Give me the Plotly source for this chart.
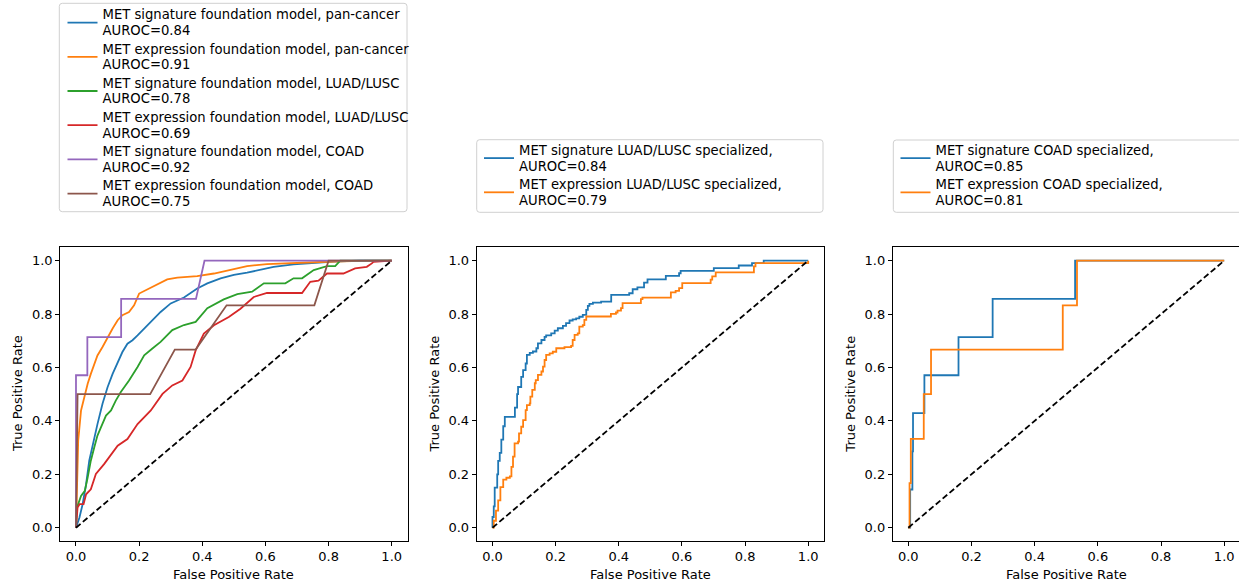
import plotly.graph_objects as go

W, H = 1239, 583

# ---------------- data ----------------
# Panel 1: foundation models
p1_labels = [
    ("MET signature foundation model, pan-cancer", "AUROC=0.84"),
    ("MET expression foundation model, pan-cancer", "AUROC=0.91"),
    ("MET signature foundation model, LUAD/LUSC", "AUROC=0.78"),
    ("MET expression foundation model, LUAD/LUSC", "AUROC=0.69"),
    ("MET signature foundation model, COAD", "AUROC=0.92"),
    ("MET expression foundation model, COAD", "AUROC=0.75"),
]
sig_pan_fpr = [0, 0.011, 0.021, 0.032, 0.042, 0.053, 0.068, 0.084, 0.1, 0.116, 0.132, 0.147, 0.163, 0.179, 0.195,
               0.211, 0.226, 0.247, 0.268, 0.3, 0.342, 0.384, 0.416, 0.458, 0.5, 0.542, 0.584, 0.626, 0.689, 0.753,
               0.816, 0.9, 1.0]
sig_pan_tpr = [0, 0.038, 0.088, 0.163, 0.251, 0.313, 0.388, 0.464, 0.526, 0.576, 0.62, 0.658, 0.689, 0.702, 0.72,
               0.739, 0.758, 0.783, 0.808, 0.84, 0.862, 0.896, 0.915, 0.934, 0.947, 0.955, 0.965, 0.977, 0.986, 0.992,
               0.997, 1.0, 1.0]
exp_pan_fpr = [0, 0.003, 0.007, 0.016, 0.026, 0.037, 0.047, 0.058, 0.068, 0.084, 0.1, 0.116, 0.132, 0.147, 0.168,
               0.184, 0.2, 0.226, 0.258, 0.289, 0.321, 0.384, 0.437, 0.489, 0.542, 0.605, 0.689, 0.795, 0.9, 1.0]
exp_pan_tpr = [0, 0.175, 0.326, 0.439, 0.489, 0.539, 0.576, 0.614, 0.645, 0.677, 0.714, 0.746, 0.777, 0.796, 0.808,
               0.833, 0.877, 0.892, 0.909, 0.93, 0.937, 0.942, 0.952, 0.967, 0.98, 0.987, 0.992, 0.996, 0.999, 1.0]
sig_lung_fpr = [0, 0.003, 0.016, 0.028, 0.037, 0.047, 0.058, 0.068, 0.079, 0.095, 0.111, 0.126, 0.142, 0.168, 0.195,
                0.216, 0.242, 0.268, 0.305, 0.342, 0.379, 0.416, 0.468, 0.511, 0.558, 0.595, 0.663, 0.689, 0.716,
                0.753, 0.795, 0.821, 0.837, 1.0]
sig_lung_tpr = [0, 0.075, 0.119, 0.138, 0.188, 0.251, 0.301, 0.345, 0.376, 0.42, 0.439, 0.476, 0.508, 0.551, 0.602,
                0.646, 0.671, 0.696, 0.74, 0.759, 0.771, 0.822, 0.855, 0.875, 0.884, 0.915, 0.915, 0.934, 0.934,
                0.965, 0.98, 0.98, 1.0, 1.0]
exp_lung_fpr = [0, 0.005, 0.011, 0.024, 0.032, 0.047, 0.063, 0.089, 0.132, 0.163, 0.195, 0.237, 0.274, 0.305, 0.337,
                0.363, 0.379, 0.405, 0.437, 0.484, 0.521, 0.563, 0.605, 0.716, 0.742, 0.768, 0.795, 0.847, 0.884,
                0.921, 0.937, 0.942, 1.0]
exp_lung_tpr = [0, 0.075, 0.088, 0.088, 0.125, 0.144, 0.201, 0.238, 0.307, 0.332, 0.388, 0.439, 0.501, 0.533, 0.551,
                0.602, 0.664, 0.727, 0.758, 0.789, 0.82, 0.864, 0.879, 0.879, 0.921, 0.925, 0.952, 0.952, 0.971,
                0.977, 0.99, 0.996, 1.0]
sig_coad_fpr = [0, 0, 0, 0.036, 0.036, 0.143, 0.143, 0.38, 0.407, 1.0]
sig_coad_tpr = [0, 0.333, 0.571, 0.571, 0.714, 0.714, 0.857, 0.857, 1.0, 1.0]
exp_coad_fpr = [0, 0.005, 0.235, 0.313, 0.379, 0.477, 0.755, 0.8, 1.0]
exp_coad_tpr = [0, 0.5, 0.5, 0.667, 0.667, 0.833, 0.833, 1.0, 1.0]

# Panel 2: LUAD/LUSC specialized (step points: x where the step up to y occurs)
p2_labels = [("MET signature LUAD/LUSC specialized,", "AUROC=0.84"),
             ("MET expression LUAD/LUSC specialized,", "AUROC=0.79")]
sig_luspec_fpr = [0, 0, 0.004, 0.007, 0.015, 0.018, 0.023, 0.028, 0.034, 0.039, 0.071, 0.078, 0.081, 0.091, 0.097,
                  0.105, 0.109, 0.118, 0.128, 0.139, 0.144, 0.155, 0.165, 0.17, 0.186, 0.197, 0.207, 0.223, 0.233,
                  0.244, 0.254, 0.265, 0.275, 0.286, 0.297, 0.302, 0.307, 0.318, 0.344, 0.376, 0.433, 0.444, 0.459,
                  0.48, 0.491, 0.549, 0.591, 0.596, 0.701, 0.78, 0.822, 0.859, 1.0]
sig_luspec_tpr = [0, 0.04, 0.08, 0.15, 0.2, 0.25, 0.28, 0.33, 0.38, 0.415, 0.45, 0.5, 0.527, 0.565, 0.59, 0.615,
                  0.647, 0.655, 0.66, 0.672, 0.69, 0.703, 0.715, 0.72, 0.728, 0.738, 0.747, 0.756, 0.766, 0.776,
                  0.78, 0.784, 0.79, 0.797, 0.816, 0.831, 0.838, 0.843, 0.847, 0.872, 0.878, 0.893, 0.9, 0.918,
                  0.93, 0.943, 0.953, 0.962, 0.972, 0.982, 0.991, 1.0, 1.0]
exp_luspec_fpr = [0, 0.004, 0.011, 0.018, 0.025, 0.034, 0.044, 0.055, 0.06, 0.065, 0.07, 0.081, 0.084, 0.091, 0.097,
                  0.105, 0.109, 0.118, 0.12, 0.126, 0.134, 0.137, 0.144, 0.155, 0.16, 0.165, 0.17, 0.181, 0.191,
                  0.202, 0.228, 0.249, 0.254, 0.26, 0.27, 0.275, 0.286, 0.291, 0.297, 0.375, 0.391, 0.396, 0.407,
                  0.412, 0.47, 0.475, 0.565, 0.58, 0.591, 0.601, 0.691, 0.696, 0.707, 0.828, 0.833, 1.0]
exp_luspec_tpr = [0, 0.026, 0.064, 0.102, 0.152, 0.18, 0.187, 0.192, 0.228, 0.266, 0.316, 0.322, 0.353, 0.378, 0.403,
                  0.44, 0.459, 0.466, 0.491, 0.516, 0.541, 0.553, 0.572, 0.585, 0.603, 0.628, 0.647, 0.653, 0.659,
                  0.672, 0.676, 0.681, 0.703, 0.722, 0.728, 0.753, 0.759, 0.778, 0.791, 0.801, 0.806, 0.813, 0.822,
                  0.841, 0.856, 0.862, 0.881, 0.887, 0.897, 0.916, 0.929, 0.941, 0.956, 0.979, 0.991, 1.0]

# Panel 3: COAD specialized (step points)
p3_labels = [("MET signature COAD specialized,", "AUROC=0.85"),
             ("MET expression COAD specialized,", "AUROC=0.81")]
sig_coadspec_fpr = [0, 0.006, 0.013, 0.015, 0.051, 0.159, 0.267, 0.528, 1.0]
sig_coadspec_tpr = [0, 0.143, 0.286, 0.429, 0.571, 0.714, 0.857, 1.0, 1.0]
exp_coadspec_fpr = [0, 0.004, 0.008, 0.049, 0.072, 0.489, 0.534, 1.0]
exp_coadspec_tpr = [0, 0.167, 0.333, 0.5, 0.667, 0.833, 1.0, 1.0]

tick_vals = [0.0, 0.2, 0.4, 0.6, 0.8, 1.0]
tick_text = ["0.0", "0.2", "0.4", "0.6", "0.8", "1.0"]
diag = [0, 1]

# ---------------- styling ----------------
C = ["#1f77b4", "#ff7f0e", "#2ca02c", "#d62728", "#9467bd", "#8c564b"]
FONT = "DejaVu Sans"
FS = 13
LEG_BASE = 12        # sets legend line/item spacing
LEG_GLYPH = 13.2     # actual glyph size of legend text
LW = 1.8

def px(x):
    return x / W

def py(y):
    return 1 - y / H

def leg_name(pair):
    a, b = pair
    return (f'<span style="font-size:{LEG_GLYPH}px">{a}</span><br>'
            f'<span style="font-size:{LEG_GLYPH}px">{b}</span>')

fig = go.Figure()

panels = [
    dict(x0=60.2, x1=407.5, xr=[-0.05, 1.05], mirror_y=True),
    dict(x0=476.7, x1=824.0, xr=[-0.05, 1.05], mirror_y=True),
    dict(x0=892.8, x1=1239.0, xr=[-0.049, 1.0468], mirror_y=False),
]
top_px, bot_px = 247.0, 540.7

p1 = [(sig_pan_fpr, sig_pan_tpr), (exp_pan_fpr, exp_pan_tpr), (sig_lung_fpr, sig_lung_tpr),
      (exp_lung_fpr, exp_lung_tpr), (sig_coad_fpr, sig_coad_tpr), (exp_coad_fpr, exp_coad_tpr)]
for i, (xs, ys) in enumerate(p1):
    fig.add_trace(go.Scatter(x=xs, y=ys, mode="lines", name=leg_name(p1_labels[i]),
                             line=dict(color=C[i], width=LW), xaxis="x", yaxis="y", legend="legend"))
fig.add_trace(go.Scatter(x=diag, y=diag, mode="lines", showlegend=False,
                         line=dict(color="black", width=LW, dash="6px,3px"), xaxis="x", yaxis="y"))

p2 = [(sig_luspec_fpr, sig_luspec_tpr), (exp_luspec_fpr, exp_luspec_tpr)]
for i, (xs, ys) in enumerate(p2):
    fig.add_trace(go.Scatter(x=xs, y=ys, mode="lines", name=leg_name(p2_labels[i]),
                             line=dict(color=C[i], width=LW, shape="hv"), xaxis="x2", yaxis="y2", legend="legend2"))
fig.add_trace(go.Scatter(x=diag, y=diag, mode="lines", showlegend=False,
                         line=dict(color="black", width=LW, dash="6px,3px"), xaxis="x2", yaxis="y2"))

p3 = [(sig_coadspec_fpr, sig_coadspec_tpr), (exp_coadspec_fpr, exp_coadspec_tpr)]
for i, (xs, ys) in enumerate(p3):
    fig.add_trace(go.Scatter(x=xs, y=ys, mode="lines", name=leg_name(p3_labels[i]),
                             line=dict(color=C[i], width=LW, shape="hv"), xaxis="x3", yaxis="y3", legend="legend3"))
fig.add_trace(go.Scatter(x=diag, y=diag, mode="lines", showlegend=False,
                         line=dict(color="black", width=LW, dash="6px,3px"), xaxis="x3", yaxis="y3"))

axis_common = dict(tickmode="array", tickvals=tick_vals, ticktext=tick_text, ticks="outside", ticklen=4,
                   tickwidth=1, tickcolor="black", showline=True, linecolor="black", linewidth=1,
                   showgrid=False, zeroline=False, tickfont=dict(family=FONT, size=FS, color="black"))

layout = dict(width=W, height=H, margin=dict(l=0, r=0, t=0, b=0), paper_bgcolor="white", plot_bgcolor="white",
              font=dict(family=FONT, size=FS, color="black"), showlegend=True)

ydom = [py(bot_px), py(top_px)]
shapes = []
annotations = []
for k, pnl in enumerate(panels):
    sx = "" if k == 0 else str(k + 1)
    layout["xaxis" + sx] = dict(axis_common, domain=[px(pnl["x0"]), min(1.0, px(pnl["x1"]))], range=pnl["xr"],
                                anchor="y" + sx, mirror=True)
    layout["yaxis" + sx] = dict(axis_common, domain=ydom, range=[-0.0487, 1.0513], anchor="x" + sx,
                                mirror=pnl["mirror_y"])
    cx = (pnl["x0"] + pnl["x1"]) / 2 if k < 2 else 1066.3
    annotations.append(dict(text="False Positive Rate", x=px(cx), y=py(574), xref="paper", yref="paper",
                            xanchor="center", yanchor="middle", showarrow=False,
                            font=dict(family=FONT, size=FS, color="black")))
    annotations.append(dict(text="True Positive Rate", x=px(pnl["x0"] - 42), y=py((top_px + bot_px) / 2),
                            xref="paper", yref="paper", xanchor="center", yanchor="middle", textangle=-90,
                            showarrow=False, font=dict(family=FONT, size=FS, color="black")))

def rounded(x0, y0, x1, y1, r=3):
    X = lambda v: px(v)
    Y = lambda v: py(v)
    return (f"M {X(x0 + r)},{Y(y0)} L {X(x1 - r)},{Y(y0)} Q {X(x1)},{Y(y0)} {X(x1)},{Y(y0 + r)} "
            f"L {X(x1)},{Y(y1 - r)} Q {X(x1)},{Y(y1)} {X(x1 - r)},{Y(y1)} L {X(x0 + r)},{Y(y1)} "
            f"Q {X(x0)},{Y(y1)} {X(x0)},{Y(y1 - r)} L {X(x0)},{Y(y0 + r)} Q {X(x0)},{Y(y0)} {X(x0 + r)},{Y(y0)} Z")

for (x0, y0, x1, y1) in [(59.3, 3.3, 407.0, 211.7), (476.7, 139.7, 823.0, 212.3), (893.3, 140.0, 1242.0, 212.3)]:
    shapes.append(dict(type="path", path=rounded(x0, y0, x1, y1), xref="paper", yref="paper",
                       line=dict(color="#d0d0d0", width=1), fillcolor="rgba(255,255,255,0.8)", layer="below"))

leg_common = dict(bgcolor="rgba(0,0,0,0)", borderwidth=0, font=dict(family=FONT, size=LEG_BASE, color="black"),
                  xanchor="left", yanchor="top", itemwidth=30, tracegroupgap=0)
layout["legend"] = dict(leg_common, x=px(62.5), y=py(0.5))
layout["legend2"] = dict(leg_common, x=px(479), y=py(136))
layout["legend3"] = dict(leg_common, x=px(895.5), y=py(136))
layout["shapes"] = shapes
layout["annotations"] = annotations

fig.update_layout(**layout)
fig.write_html("out.html")
